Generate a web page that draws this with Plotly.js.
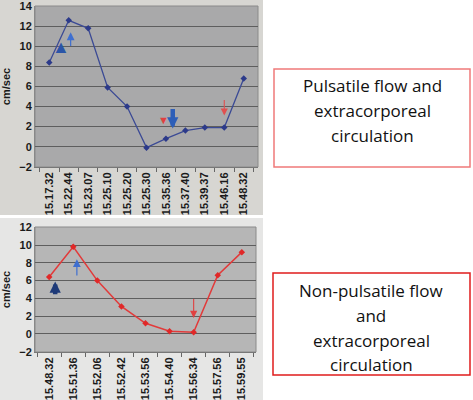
<!DOCTYPE html>
<html><head><meta charset="utf-8">
<script src="https://cdn.plot.ly/plotly-3.0.1.min.js"></script>
<style>html,body{margin:0;padding:0;background:#fff}#c{width:473px;height:400px}</style>
</head><body><div id="c"></div>
<script>
// Top chart: pulsatile flow
var timesTop = ["15.17.32","15.22.44","15.23.07","15.25.10","15.25.20","15.25.30","15.35.36","15.37.40","15.39.37","15.46.16","15.48.32"];
var velTop = [8.4, 12.6, 11.8, 5.9, 4.0, -0.1, 0.8, 1.6, 1.9, 1.9, 6.8];
// Bottom chart: non-pulsatile flow
var timesBot = ["15.48.32","15.51.36","15.52.06","15.52.42","15.53.56","15.54.40","15.56.34","15.57.56","15.59.55"];
var velBot = [6.4, 9.8, 6.0, 3.1, 1.2, 0.3, 0.2, 6.6, 9.2];
var yTicksTop = [-2, 0, 2, 4, 6, 8, 10, 12, 14];
var yTicksBot = [-2, 0, 2, 4, 6, 8, 10, 12];
var yTitle = "cm/sec";
var boxTop = ["Pulsatile flow and","extracorporeal","circulation"];
var boxBot = ["Non-pulsatile flow","and","extracorporeal","circulation"];

var W = 473, H = 400;
function px(x){return x/W;}
function py(y){return 1-y/H;}

var tickFont = {family:"Liberation Sans, Arial, sans-serif", size:11, color:"#1a1a1a", weight:"bold"};

var traces = [
  {x: timesTop, y: velTop, xaxis:"x", yaxis:"y", type:"scatter", mode:"lines+markers",
   line:{color:"#3b4a95", width:1.3}, marker:{symbol:"diamond", size:5, color:"#2c3a8a"}, hoverinfo:"skip"},
  {x: timesBot, y: velBot, xaxis:"x2", yaxis:"y2", type:"scatter", mode:"lines+markers",
   line:{color:"#e23a3a", width:1.5}, marker:{symbol:"diamond", size:5, color:"#e02828"}, hoverinfo:"skip"}
];

function xax(domain){
  return {domain:domain, type:"category", showgrid:false, tickangle:-90, tickfont:tickFont,
    ticks:"outside", tickson:"boundaries", ticklen:4, tickcolor:"#666", automargin:false,
    ticklabeloverflow:"allow", showline:true, linecolor:"#777", linewidth:1};
}
function yax(domain, ticks){
  return {domain:domain, range:[ticks[0]-0.03, ticks[ticks.length-1]+0.03], tickmode:"array", tickvals:ticks,
    tickfont:tickFont, showgrid:true, ticklabeloverflow:"allow",
    gridcolor:"#5e5e5e", zeroline:false, showline:true, linecolor:"#888", ticks:"", automargin:false,
    title:{text:yTitle, font:{family:"Liberation Sans, Arial, sans-serif", size:11, color:"#1a1a1a", weight:"bold"}, standoff:6}};
}

var shapes = [
  {type:"rect", xref:"paper", yref:"paper", x0:0, x1:px(263), y0:py(215), y1:1, fillcolor:"#d7d6d2", line:{width:0}, layer:"below"},
  {type:"rect", xref:"paper", yref:"paper", x0:0, x1:px(263), y0:0, y1:py(218), fillcolor:"#e6e6e5", line:{width:0}, layer:"below"},
  {type:"rect", xref:"x domain", yref:"y domain", x0:0, x1:1, y0:0, y1:1, fillcolor:"#a9a9aa", line:{color:"#8a8a8a", width:1}, layer:"below"},
  {type:"rect", xref:"x2 domain", yref:"y2 domain", x0:0, x1:1, y0:0, y1:1, fillcolor:"#b6b6b6", line:{color:"#8a8a8a", width:1}, layer:"below"},
  {type:"rect", xref:"paper", yref:"paper", x0:px(274), x1:px(470), y0:py(167), y1:py(69), line:{color:"#f07a7a", width:1.5}, fillcolor:"rgba(0,0,0,0)"},
  {type:"rect", xref:"paper", yref:"paper", x0:px(273), x1:px(470), y0:py(375), y1:py(273), line:{color:"#e01c1c", width:1.5}, fillcolor:"rgba(0,0,0,0)"}
];

var boxFont = {family:"Open Sans, Noto Sans, sans-serif", size:17, color:"#111"};
var ann = [];
var topLinesY = [85,110,135];
boxTop.forEach(function(t,i){ann.push({xref:"paper", yref:"paper", x:px(372), y:py(topLinesY[i]), text:t, showarrow:false, font:boxFont, xanchor:"center", yanchor:"middle"});});
var botLinesY = [290,315,340,364];
boxBot.forEach(function(t,i){ann.push({xref:"paper", yref:"paper", x:px(371), y:py(botLinesY[i]), text:t, showarrow:false, font:boxFont, xanchor:"center", yanchor:"middle"});});

function arrow(xr, yr, x, yTail, yHead, color, width, head, size){
  return {xref:xr, yref:yr, axref:xr, ayref:yr, x:x, y:yHead, ax:x, ay:yTail, text:"", showarrow:true,
    arrowcolor:color, arrowwidth:width, arrowhead:head, arrowsize:size};
}
ann.push(arrow("x","y",1.1,9.9,11.4,"#3f6fd0",1.2,2,1.3));
ann.push(arrow("x","y",6.35,3.9,1.8,"#2e5fb8",4.5,2,0.5));
ann.push(arrow("x","y",9.0,4.8,3.1,"#e05050",1.1,2,1.3));
ann.push({xref:"x", yref:"y", x:0.6, y:10.0, text:"▲", showarrow:false, font:{size:18, color:"#2b55a8"}});
ann.push({xref:"x", yref:"y", x:5.85, y:2.7, text:"▼", showarrow:false, font:{size:11, color:"#e04040"}});
ann.push(arrow("x2","y2",0.25,4.3,5.9,"#1e3a78",4.5,2,0.5));
ann.push(arrow("x2","y2",1.15,6.4,8.4,"#3f6fd0",1.2,2,1.3));
ann.push(arrow("x2","y2",6.0,4.1,1.8,"#e04040",1.1,2,1.3));

var layout = {
  width:W, height:H, margin:{l:0,r:0,t:0,b:0, autoexpand:false}, paper_bgcolor:"#ffffff", plot_bgcolor:"rgba(0,0,0,0)",
  showlegend:false,
  xaxis: Object.assign(xax([px(35), px(258)]), {anchor:"y"}),
  yaxis: Object.assign(yax([py(167), py(6)], yTicksTop), {anchor:"x"}),
  xaxis2: Object.assign(xax([px(35), px(256)]), {anchor:"y2"}),
  yaxis2: Object.assign(yax([py(352), py(227)], yTicksBot), {anchor:"x2"}),
  shapes: shapes, annotations: ann
};
Plotly.newPlot("c", traces, layout, {displayModeBar:false, staticPlot:true});
</script></body></html>
